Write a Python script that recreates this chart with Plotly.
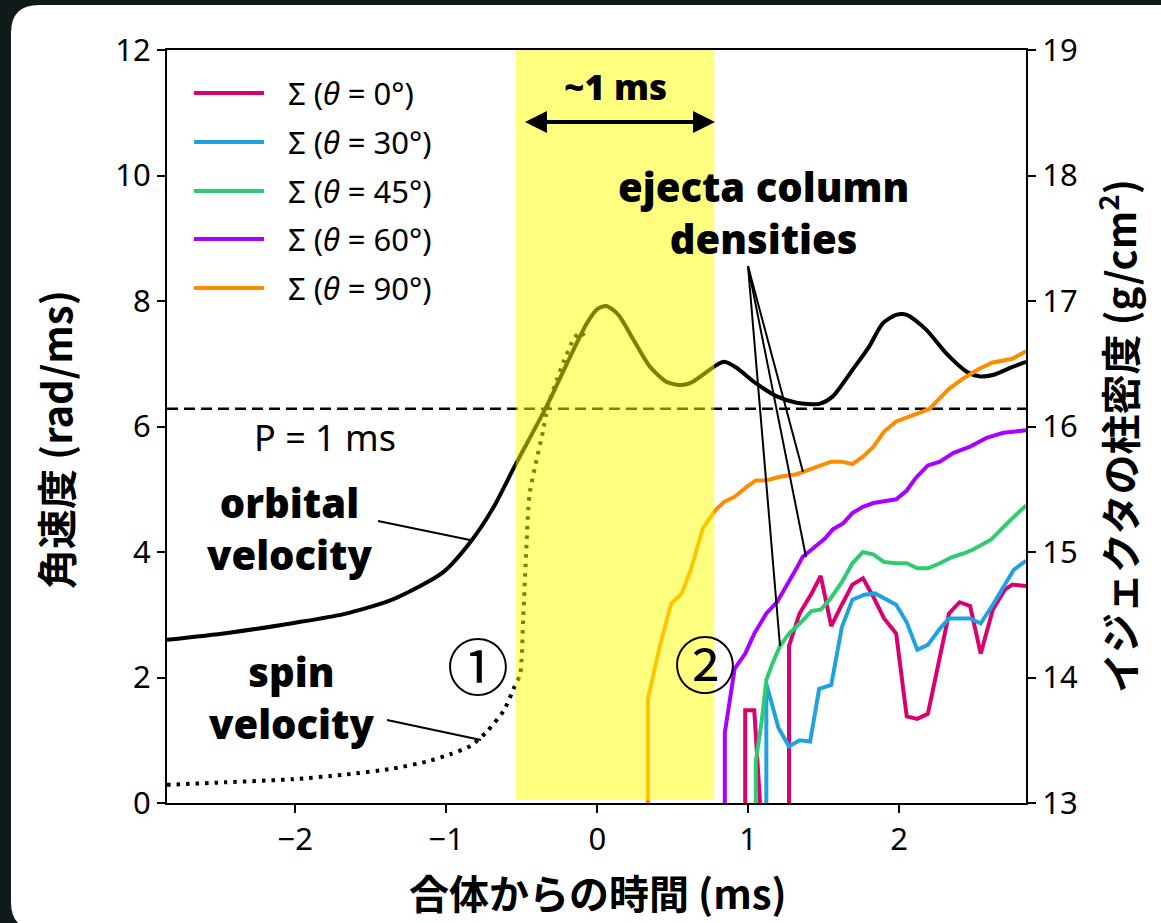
import plotly.graph_objects as go

# ---------------- data ----------------
t_orbital = [-2.85, -2.45, -2.01, -1.68, -1.35, -1.02, -0.84, -0.69, -0.54, -0.34, -0.16, -0.07,
             0.00, 0.06, 0.14, 0.24, 0.35, 0.46, 0.56, 0.63, 0.79, 0.84, 0.92, 1.05, 1.19, 1.32,
             1.47, 1.56, 1.69, 1.80, 1.89, 1.98, 2.05, 2.18, 2.31, 2.45, 2.53, 2.62, 2.75, 2.84]
w_orbital = [2.60, 2.71, 2.87, 3.01, 3.25, 3.68, 4.16, 4.70, 5.40, 6.30, 7.21, 7.64,
             7.87, 7.92, 7.78, 7.38, 6.95, 6.71, 6.66, 6.71, 6.98, 7.03, 6.94, 6.69, 6.48, 6.38,
             6.36, 6.48, 6.90, 7.27, 7.64, 7.78, 7.78, 7.54, 7.17, 6.87, 6.80, 6.82, 6.95, 7.03]

t_spin = [-2.85, -2.46, -2.01, -1.68, -1.35, -1.13, -0.97, -0.84, -0.73, -0.62, -0.55, -0.51,
          -0.49, -0.47, -0.45, -0.41, -0.36, -0.33, -0.27, -0.22, -0.15, -0.11, -0.07]
w_spin = [0.29, 0.33, 0.38, 0.45, 0.55, 0.66, 0.78, 0.91, 1.14, 1.47, 1.84, 2.06,
          2.97, 4.04, 4.90, 5.38, 5.92, 6.30, 6.73, 7.05, 7.42, 7.50, 7.40]

t_s90 = [0.336, 0.336, 0.414, 0.49, 0.56, 0.62, 0.70, 0.78, 0.84, 0.91, 0.99, 1.05, 1.12, 1.21,
         1.32, 1.39, 1.47, 1.55, 1.62, 1.69, 1.76, 1.83, 1.90, 1.98, 2.07, 2.20, 2.33, 2.42,
         2.53, 2.62, 2.75, 2.84]
s90 = [12.0, 13.83, 14.25, 14.59, 14.67, 14.86, 15.19, 15.33, 15.40, 15.44, 15.52, 15.57, 15.57,
       15.60, 15.62, 15.65, 15.69, 15.72, 15.72, 15.70, 15.76, 15.84, 15.96, 16.04, 16.08, 16.14,
       16.30, 16.38, 16.46, 16.51, 16.54, 16.60]

t_s60 = [0.845, 0.845, 0.91, 0.98, 1.04, 1.12, 1.19, 1.25, 1.32, 1.36, 1.44, 1.51, 1.56, 1.63,
         1.69, 1.76, 1.83, 1.91, 1.98, 2.05, 2.11, 2.19, 2.27, 2.36, 2.47, 2.58, 2.69, 2.84]
s60 = [12.0, 13.56, 14.07, 14.19, 14.35, 14.51, 14.60, 14.72, 14.87, 14.96, 15.04, 15.11, 15.18,
       15.23, 15.31, 15.36, 15.39, 15.41, 15.42, 15.49, 15.59, 15.69, 15.72, 15.79, 15.84, 15.91,
       15.95, 15.97]

t_s45 = [1.05, 1.05, 1.09, 1.12, 1.16, 1.21, 1.27, 1.35, 1.42, 1.48, 1.54, 1.62, 1.69, 1.76,
         1.83, 1.90, 1.98, 2.05, 2.12, 2.19, 2.27, 2.35, 2.43, 2.49, 2.61, 2.69, 2.75, 2.84]
s45 = [12.0, 13.33, 13.66, 13.98, 14.11, 14.25, 14.35, 14.44, 14.53, 14.54, 14.62, 14.76, 14.91,
       15.00, 14.98, 14.92, 14.91, 14.91, 14.87, 14.87, 14.91, 14.96, 14.99, 15.02, 15.10, 15.20,
       15.27, 15.37]

t_s30 = [1.12, 1.12, 1.20, 1.27, 1.34, 1.41, 1.47, 1.55, 1.62, 1.69, 1.77, 1.84, 1.98, 2.05,
         2.12, 2.19, 2.27, 2.33, 2.47, 2.54, 2.62, 2.70, 2.76, 2.84]
s30 = [12.0, 13.95, 13.60, 13.45, 13.50, 13.49, 13.91, 13.94, 14.40, 14.62, 14.66, 14.67, 14.58,
       14.44, 14.22, 14.26, 14.39, 14.47, 14.47, 14.43, 14.58, 14.74, 14.86, 14.93]

t_s0 = [0.98, 0.98, 1.04, 1.13, 1.27, 1.27, 1.34, 1.42, 1.48, 1.55, 1.62, 1.69, 1.76, 1.83,
        1.90, 1.98, 2.05, 2.12, 2.19, 2.27, 2.33, 2.40, 2.47, 2.54, 2.62, 2.70, 2.75, 2.84]
s0 = [12.0, 13.74, 13.74, 12.0, 12.0, 14.25, 14.51, 14.67, 14.81, 14.41, 14.58, 14.74, 14.79,
      14.64, 14.47, 14.35, 13.69, 13.67, 13.71, 14.17, 14.51, 14.60, 14.57, 14.19, 14.54, 14.70,
      14.74, 14.73]

series_names = ["Σ (<i>θ</i> = 0°)", "Σ (<i>θ</i> = 30°)", "Σ (<i>θ</i> = 45°)",
                "Σ (<i>θ</i> = 60°)", "Σ (<i>θ</i> = 90°)"]
series_colors = ["#DB0070", "#1FA3E0", "#2ECC71", "#AA00FF", "#FF8C00"]
series_t = [t_s0, t_s30, t_s45, t_s60, t_s90]
series_v = [s0, s30, s45, s60, s90]

x_ticks = [-2, -1, 0, 1, 2]
y_left_ticks = [0, 2, 4, 6, 8, 10, 12]
y_right_ticks = [13, 14, 15, 16, 17, 18, 19]
period_omega = 6.2832  # 2*pi rad/ms, P = 1 ms
merger_window = [-0.54, 0.775]

# ---------------- layout helpers ----------------
W, H = 1161, 923
PL, PR, PT, PB = 167, 1026, 50, 803
BG = "#0F1B1B"


def pxx(x):
    return (x - PL) / (PR - PL)


def pxy(y):
    return (PB - y) / (PB - PT)


X0, X1 = -2.85, 2.84


def dx(px):
    return X0 + (px - PL) / (PR - PL) * (X1 - X0)


def dy(py):
    return (PB - py) / (PB - PT) * 12.0


LAT = "Noto Sans"
CJK = "Noto Sans CJK JP"

fig = go.Figure()

for name, col, tt, vv in zip(series_names, series_colors, series_t, series_v):
    fig.add_trace(go.Scatter(x=tt, y=vv, mode="lines", name=name, yaxis="y2",
                             line=dict(color=col, width=4), showlegend=False))

fig.add_trace(go.Scatter(x=t_orbital, y=w_orbital, mode="lines", name="orbital",
                         line=dict(color="black", width=4, shape="spline", smoothing=0.7),
                         showlegend=False))
fig.add_trace(go.Scatter(x=t_spin, y=w_spin, mode="lines", name="spin",
                         line=dict(color="black", width=4, dash="3.5px,6px",
                                   shape="spline", smoothing=0.6),
                         showlegend=False))
fig.add_trace(go.Scatter(x=[X0, X1], y=[period_omega, period_omega], mode="lines",
                         line=dict(color="black", width=2.5, dash="11px,6px"),
                         showlegend=False))

shapes = []
# white card
r = 28
cx0, cx1, cy0, cy1 = 11, 1220, 5, 930
card = (f"M {pxx(cx0 + r)},{pxy(cy0)} L {pxx(cx1)},{pxy(cy0)} L {pxx(cx1)},{pxy(cy1)} "
        f"L {pxx(cx0 + r)},{pxy(cy1)} Q {pxx(cx0)},{pxy(cy1)} {pxx(cx0)},{pxy(cy1 - r)} "
        f"L {pxx(cx0)},{pxy(cy0 + r)} Q {pxx(cx0)},{pxy(cy0)} {pxx(cx0 + r)},{pxy(cy0)} Z")
shapes.append(dict(type="path", xref="paper", yref="paper", path=card,
                   fillcolor="white", line=dict(width=0), layer="below"))
# yellow merger window
shapes.append(dict(type="rect", xref="x", yref="y", x0=merger_window[0], x1=merger_window[1],
                   y0=0.05, y1=12, fillcolor="#FFFF00", opacity=0.5, line=dict(width=0),
                   layer="above"))
# pointer lines
ptr = [((378, 521), (470, 540)), ((387, 720), (481, 740)),
       ((748, 266), (803, 472)), ((748, 266), (806, 557)), ((748, 266), (780, 646))]
for (a, b) in ptr:
    shapes.append(dict(type="line", xref="x", yref="y", x0=dx(a[0]), y0=dy(a[1]),
                       x1=dx(b[0]), y1=dy(b[1]), line=dict(color="black", width=2)))
# legend samples
leg_y = [93, 142, 191, 239, 288]
for yy, col in zip(leg_y, series_colors):
    shapes.append(dict(type="line", xref="paper", yref="paper", x0=pxx(194), x1=pxx(264),
                       y0=pxy(yy), y1=pxy(yy), line=dict(color=col, width=4)))

ann = []
for yy, name in zip(leg_y, series_names):
    ann.append(dict(xref="paper", yref="paper", x=pxx(286), y=pxy(yy), text=name,
                    xanchor="left", yanchor="middle", showarrow=False,
                    font=dict(family=LAT, size=31, color="black")))


def txt(x, y, s, size, fam=LAT, weight=900):
    ann.append(dict(xref="x", yref="y", x=dx(x), y=dy(y), text=s,
                    showarrow=False, xanchor="center", yanchor="middle",
                    font=dict(family=fam, size=size, color="black", weight=weight)))


txt(615, 86, "~1 ms", 35)
txt(763, 212, "ejecta column<br>densities", 40)
txt(290, 528, "orbital<br>velocity", 40)
txt(292, 697, "spin<br>velocity", 40)
txt(325, 437, "P = 1 ms", 36, weight=400)
txt(478, 664, "①", 62, fam=CJK, weight=400)
txt(705, 662, "②", 62, fam=CJK, weight=400)

# double arrow ~1 ms
ann.append(dict(xref="x", yref="y", axref="x", ayref="y", x=dx(715), y=dy(122),
                ax=dx(522), ay=dy(122), text=" ", showarrow=True, arrowhead=2,
                arrowside="end+start", arrowwidth=4, arrowsize=1.1, arrowcolor="black",
                standoff=0, startstandoff=0))

# axis titles
TF = dict(family=CJK, size=40, color="black", weight=700)
ann.append(dict(xref="paper", yref="paper", x=pxx(598), y=pxy(892), text="合体からの時間 (ms)",
                showarrow=False, xanchor="center", yanchor="middle", font=TF))
ann.append(dict(xref="paper", yref="paper", x=pxx(55), y=pxy(440), text="角速度 (rad/ms)",
                showarrow=False, xanchor="center", yanchor="middle", textangle=-90, font=TF))
ann.append(dict(xref="paper", yref="paper", x=pxx(1117), y=pxy(436),
                text="イジェクタの柱密度 (g/cm<sup>2</sup>)",
                showarrow=False, xanchor="center", yanchor="middle", textangle=-90, font=TF))

axis_common = dict(showline=True, linecolor="black", linewidth=2, ticks="outside",
                   ticklen=8, tickwidth=2, tickcolor="black", showgrid=False, zeroline=False,
                   tickfont=dict(family=LAT, size=31, color="black"))

fig.update_layout(
    width=W, height=H,
    margin=dict(l=PL, r=W - PR, t=PT, b=H - PB, pad=0),
    paper_bgcolor=BG, plot_bgcolor="white",
    showlegend=False,
    xaxis=dict(range=[X0, X1], tickvals=x_ticks,
               ticktext=[("−" + str(-v)) if v < 0 else str(v) for v in x_ticks],
               mirror=True, **axis_common),
    yaxis=dict(range=[0, 12], tickvals=y_left_ticks, **axis_common),
    yaxis2=dict(range=[13, 19], tickvals=y_right_ticks, overlaying="y", side="right",
                **axis_common),
    shapes=shapes, annotations=ann,
)

fig.write_html("out.html", config={"displayModeBar": False},
               post_script="document.body.style.margin='0px';"
                           "document.body.style.background='" + BG + "';")
